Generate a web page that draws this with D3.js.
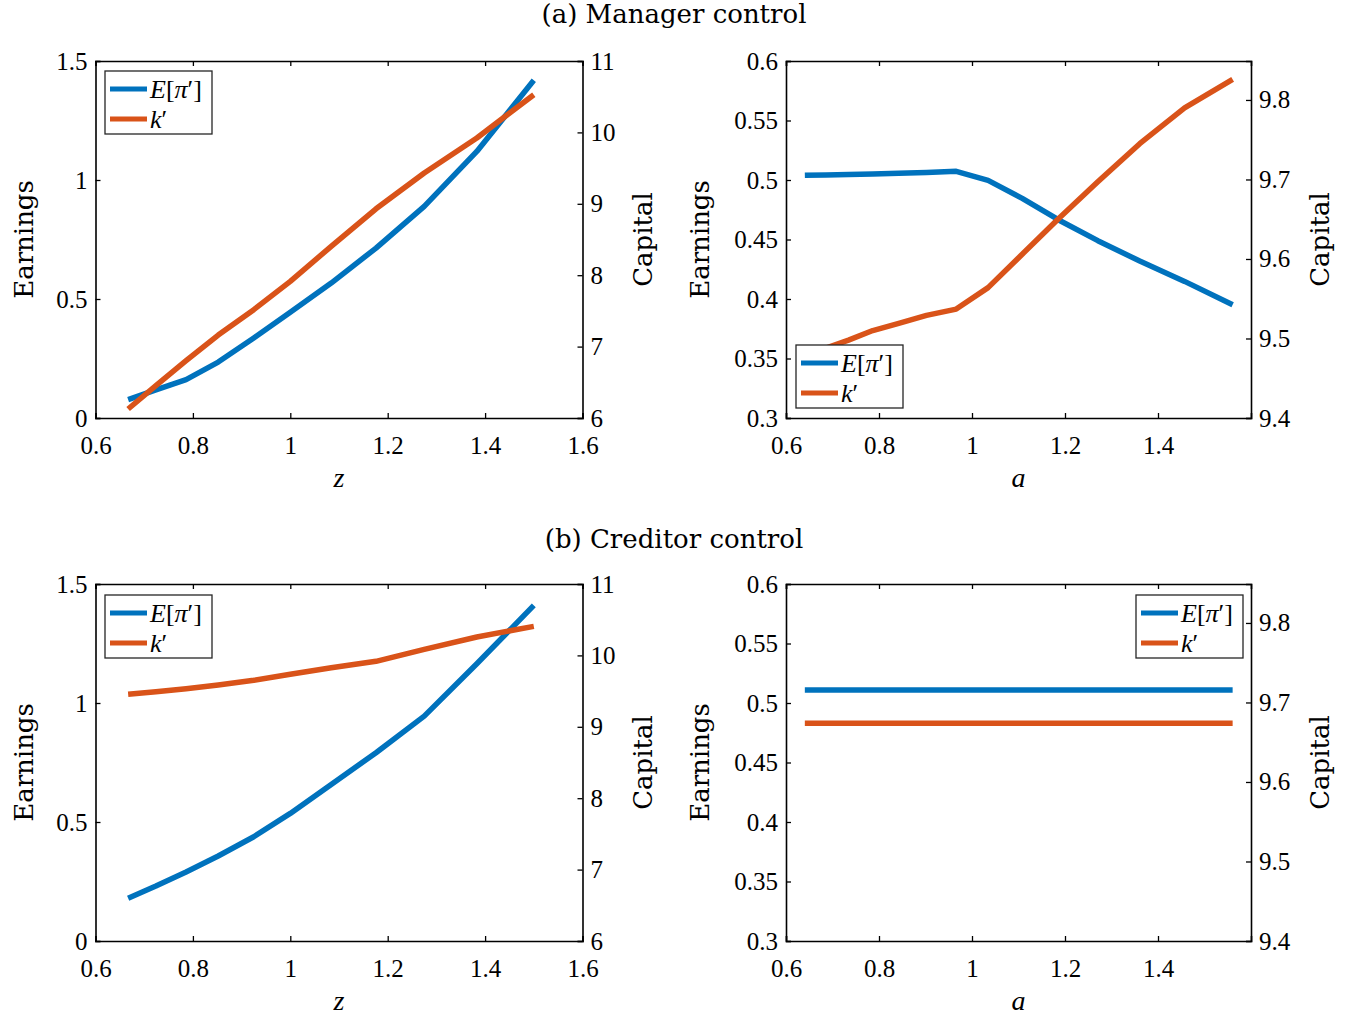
<!DOCTYPE html>
<html>
<head>
<meta charset="utf-8">
<script src="https://cdn.jsdelivr.net/npm/d3@7"></script>
<style>
  html, body { margin: 0; padding: 0; background: #fff; }
  svg { display: block; }
</style>
</head>
<body>
<svg id="chart" width="1353" height="1017"></svg>
<script>
// ---------------- DATA ----------------
const zGrid = [0.667, 0.724, 0.786, 0.852, 0.925, 1.0, 1.084, 1.176, 1.275, 1.383, 1.5];
const aGrid = [0.6405, 0.686, 0.7345, 0.7866, 0.8424, 0.9021, 0.9661, 1.0346, 1.108, 1.1865, 1.2706, 1.3607, 1.4572, 1.5605];

// (a) Manager control
const mgrEarningsZ = [0.077, 0.118, 0.161, 0.235, 0.336, 0.444, 0.567, 0.714, 0.889, 1.12, 1.419];
const mgrCapitalZ  = [6.126, 6.453, 6.803, 7.162, 7.517, 7.914, 8.404, 8.930, 9.431, 9.921, 10.528];
const mgrEarningsA = [0.5039, 0.5042, 0.5046, 0.5050, 0.5056, 0.5062, 0.5073, 0.4997, 0.4846, 0.4664, 0.4490, 0.4319, 0.4148, 0.3952];
const mgrCapitalA  = [9.478, 9.488, 9.498, 9.510, 9.519, 9.529, 9.537, 9.564, 9.606, 9.651, 9.697, 9.745, 9.790, 9.826];

// (b) Creditor control
const credEarningsZ = [0.180, 0.231, 0.290, 0.357, 0.438, 0.536, 0.658, 0.791, 0.945, 1.165, 1.410];
const credCapitalZ  = [9.455, 9.492, 9.534, 9.585, 9.651, 9.735, 9.828, 9.917, 10.085, 10.258, 10.407];
const credEarningsA = [0.511, 0.511, 0.511, 0.511, 0.511, 0.511, 0.511, 0.511, 0.511, 0.511, 0.511, 0.511, 0.511, 0.511];
const credCapitalA  = [9.674, 9.674, 9.674, 9.674, 9.674, 9.674, 9.674, 9.674, 9.674, 9.674, 9.674, 9.674, 9.674, 9.674];

// ticks
const zTicks = [0.6, 0.8, 1, 1.2, 1.4, 1.6];
const aTicks = [0.6, 0.8, 1, 1.2, 1.4];
const earnZTicks = [0, 0.5, 1, 1.5];
const capZTicks = [6, 7, 8, 9, 10, 11];
const earnATicks = [0.3, 0.35, 0.4, 0.45, 0.5, 0.55, 0.6];
const capATicks = [9.4, 9.5, 9.6, 9.7, 9.8];

const panelTitles = ["(a) Manager control", "(b) Creditor control"];
const blue = "#0072BD", orange = "#D95319";
const tickFont = "'Liberation Serif', 'Times New Roman', serif";
const textFont = "'DejaVu Serif', serif";

// ---------------- DRAW ----------------
const svg = d3.select("#chart");

function drawPanel(cfg) {
  const g = svg.append("g");
  const x = d3.scaleLinear().domain(cfg.xDomain).range([cfg.left, cfg.right]);
  const yL = d3.scaleLinear().domain(cfg.yLDomain).range([cfg.bottom, cfg.top]);
  const yR = d3.scaleLinear().domain(cfg.yRDomain).range([cfg.bottom, cfg.top]);

  const clipId = "clip" + cfg.id;
  svg.append("clipPath").attr("id", clipId).append("rect")
    .attr("x", cfg.left).attr("y", cfg.top)
    .attr("width", cfg.right - cfg.left).attr("height", cfg.bottom - cfg.top);
  const lg = g.append("g").attr("clip-path", `url(#${clipId})`);
  const lineL = d3.line().x((d, i) => x(cfg.xs[i])).y(d => yL(d));
  const lineR = d3.line().x((d, i) => x(cfg.xs[i])).y(d => yR(d));
  lg.append("path").datum(cfg.left_vals).attr("d", lineL)
    .attr("fill", "none").attr("stroke", blue).attr("stroke-width", 5.5).attr("stroke-linejoin", "round");
  lg.append("path").datum(cfg.right_vals).attr("d", lineR)
    .attr("fill", "none").attr("stroke", orange).attr("stroke-width", 5.5).attr("stroke-linejoin", "round");

  const tl = -5;
  const bottomAxis = d3.axisBottom(x).tickValues(cfg.xTicks).tickSize(tl).tickFormat(d => String(d)).tickPadding(18);
  const topAxis = d3.axisTop(x).tickValues(cfg.xTicks).tickSize(tl).tickFormat("");
  const leftAxis = d3.axisLeft(yL).tickValues(cfg.yLTicks).tickSize(tl).tickFormat(d => String(d)).tickPadding(8);
  const rightAxis = d3.axisRight(yR).tickValues(cfg.yRTicks).tickSize(tl).tickFormat(d => String(d)).tickPadding(8);

  const axes = [
    [bottomAxis, `translate(0,${cfg.bottom})`],
    [topAxis, `translate(0,${cfg.top})`],
    [leftAxis, `translate(${cfg.left},0)`],
    [rightAxis, `translate(${cfg.right},0)`]
  ];
  axes.forEach(([ax, tr]) => {
    const a = g.append("g").attr("transform", tr).call(ax);
    a.attr("font-family", tickFont).attr("font-size", 25);
    a.select(".domain").attr("stroke", "#000").attr("stroke-width", 1.6);
    a.selectAll(".tick line").attr("stroke", "#000").attr("stroke-width", 1.3);
    a.selectAll(".tick text").attr("fill", "#000");
  });

  const midY = (cfg.top + cfg.bottom) / 2;
  g.append("text").attr("font-family", textFont).attr("font-size", 26)
    .attr("transform", `translate(${cfg.yLTitleX},${midY}) rotate(-90)`)
    .attr("text-anchor", "middle").text("Earnings");
  g.append("text").attr("font-family", textFont).attr("font-size", 26)
    .attr("transform", `translate(${cfg.yRTitleX},${midY}) rotate(-90)`)
    .attr("text-anchor", "middle").text("Capital");
  g.append("text").attr("font-family", tickFont).attr("font-size", 28)
    .attr("x", (cfg.left + cfg.right) / 2).attr("y", cfg.bottom + 69)
    .attr("text-anchor", "middle").attr("font-style", "italic").text(cfg.xLabel);

  const L = cfg.legend;
  const leg = g.append("g").attr("transform", `translate(${L.x},${L.y})`);
  leg.append("rect").attr("width", 107).attr("height", 63)
    .attr("fill", "#fff").attr("stroke", "#262626").attr("stroke-width", 1.3);
  [[blue, 0], [orange, 1]].forEach(([col, i]) => {
    const yy = 18 + i * 30;
    leg.append("line").attr("x1", 5).attr("x2", 42).attr("y1", yy).attr("y2", yy)
      .attr("stroke", col).attr("stroke-width", 5);
    const t = leg.append("text").attr("font-family", tickFont).attr("font-size", 26)
      .attr("x", 45).attr("y", yy + 9);
    if (i === 0) {
      t.append("tspan").attr("font-style", "italic").text("E");
      t.append("tspan").text("[");
      t.append("tspan").attr("font-style", "italic").text("π");
      t.append("tspan").text("′]");
    } else {
      t.append("tspan").attr("font-style", "italic").text("k");
      t.append("tspan").text("′");
    }
  });
}

const rows = [
  { top: 61, bottom: 418, title: panelTitles[0], titleY: 23,
    zE: mgrEarningsZ, zK: mgrCapitalZ, aE: mgrEarningsA, aK: mgrCapitalA,
    legL: { x: 105, y: 71 }, legR: { x: 796, y: 345 } },
  { top: 584, bottom: 941, title: panelTitles[1], titleY: 548,
    zE: credEarningsZ, zK: credCapitalZ, aE: credEarningsA, aK: credCapitalA,
    legL: { x: 105, y: 595 }, legR: { x: 1136, y: 595 } }
];

rows.forEach((r, ri) => {
  svg.append("text").attr("font-family", textFont).attr("font-size", 26)
    .attr("x", 674).attr("y", r.titleY).attr("text-anchor", "middle").text(r.title);

  drawPanel({
    id: ri + "L", left: 95.5, right: 582.5, top: r.top, bottom: r.bottom,
    xDomain: [0.6, 1.6], yLDomain: [0, 1.5], yRDomain: [6, 11],
    xTicks: zTicks, yLTicks: earnZTicks, yRTicks: capZTicks,
    xs: zGrid, left_vals: r.zE, right_vals: r.zK,
    yLTitleX: 33, yRTitleX: 652, xLabel: "z", legend: r.legL
  });
  drawPanel({
    id: ri + "R", left: 786, right: 1251, top: r.top, bottom: r.bottom,
    xDomain: [0.6, 1.6], yLDomain: [0.3, 0.6], yRDomain: [9.4, 9.849],
    xTicks: aTicks, yLTicks: earnATicks, yRTicks: capATicks,
    xs: aGrid, left_vals: r.aE, right_vals: r.aK,
    yLTitleX: 709, yRTitleX: 1329, xLabel: "a", legend: r.legR
  });
});
</script>
</body>
</html>
